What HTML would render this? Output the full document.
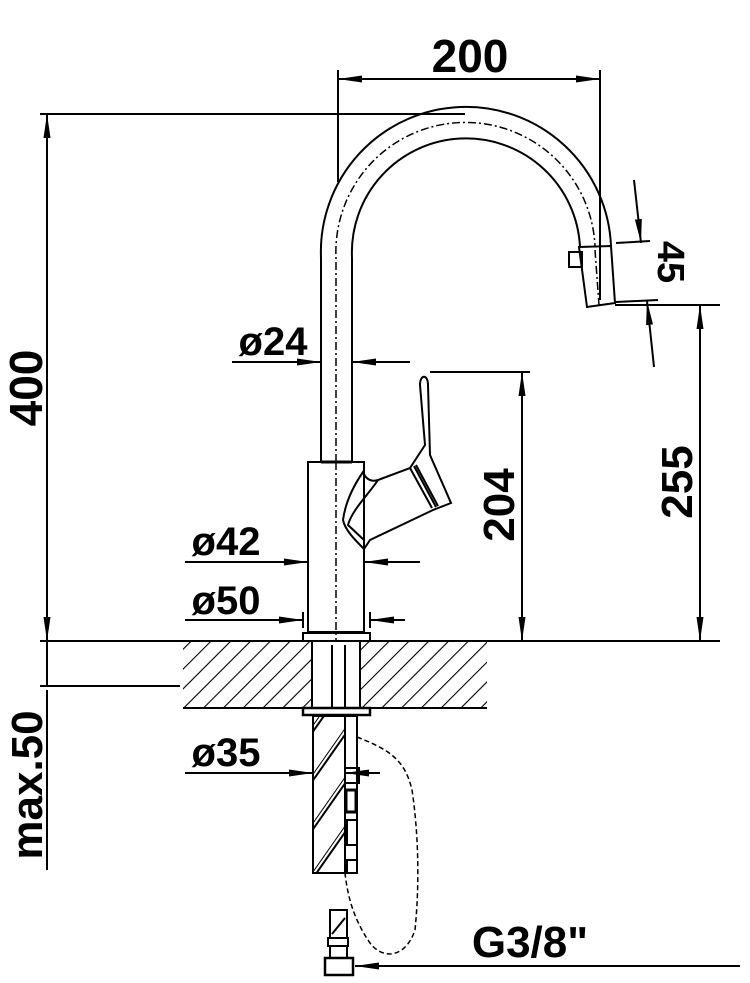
<!DOCTYPE html>
<html><head><meta charset="utf-8"><style>
html,body{margin:0;padding:0;background:#fff;}
svg{display:block;}
text{font-family:"Liberation Sans",sans-serif;font-weight:bold;fill:#000;}
</style></head><body>
<svg width="750" height="983" viewBox="0 0 750 983" xmlns="http://www.w3.org/2000/svg">
<defs>
<pattern id="h" width="14" height="14" patternUnits="userSpaceOnUse" patternTransform="rotate(45)">
<line x1="0" y1="0" x2="0" y2="14" stroke="#000" stroke-width="2.2"/>
</pattern>
<pattern id="h2" width="28" height="28" patternUnits="userSpaceOnUse" patternTransform="rotate(35)">
<line x1="0" y1="0" x2="0" y2="28" stroke="#000" stroke-width="2"/>
<line x1="4" y1="0" x2="4" y2="28" stroke="#000" stroke-width="2"/>
</pattern>
<marker id="a" viewBox="0 0 24 8" refX="24" refY="4" markerWidth="24" markerHeight="8" markerUnits="userSpaceOnUse" orient="auto-start-reverse"><path d="M0,0.5 L24,4 L0,7.5 Z" fill="#000"/></marker>
</defs>
<g stroke="#000" fill="none" stroke-width="2">
<!-- spout -->
<path d="M321,462 L321,258 A144,144 0 0 1 611,246"/>
<path d="M352,462 L352,258 A113,113 0 0 1 580,247"/>
<path d="M336,462 L336,258 A129,129 0 0 1 595,246" stroke-width="1.5" stroke-dasharray="8,3,2,3"/>
<path d="M579,247 L611,246 L615,303 L587,307 Z"/>
<rect x="569" y="252" width="13" height="15"/>
<line x1="595" y1="250" x2="599" y2="305" stroke-width="1.5" stroke-dasharray="8,3,2,3"/>
<!-- body -->
<rect x="308" y="462" width="56" height="170"/>
<line x1="336" y1="462" x2="336" y2="640" stroke-width="1.5" stroke-dasharray="8,3,2,3"/>
<line x1="321" y1="462" x2="352" y2="462" stroke-width="3"/>
<!-- handle -->
<path d="M363,472 C366,480 372,482 378,480 L410,468 L425,445 L420,385 C420,374 428,374 428,385 L430,455 L451,503 L433,510 L370,540 L364,549 C355,540 345,530 343,520 C345,505 352,488 363,472 Z"/>
<path d="M378,480 C368,495 352,510 348,525 L364,540" />
<path d="M410,468 L432,508 M414,466 L436,507 M416,465 L438,506"/>
<!-- base -->
<rect x="303" y="633" width="67" height="8"/>
</g>
<!-- countertop -->
<rect x="183" y="641" width="304" height="67" fill="url(#h)"/>
<rect x="312" y="641" width="48" height="67" fill="#fff" stroke="#000" stroke-width="2"/>
<g stroke="#000" fill="none" stroke-width="2">
<line x1="40" y1="641" x2="720" y2="641"/>
<line x1="183" y1="708" x2="487" y2="708"/>
<line x1="40" y1="686" x2="180" y2="686"/>
<line x1="332" y1="645" x2="332" y2="708"/>
<line x1="345" y1="645" x2="345" y2="708"/>
<rect x="303" y="708" width="67" height="7" stroke-width="2.5"/>
<!-- lower shank -->
<rect x="313" y="716" width="32" height="157" fill="url(#h2)"/>
<rect x="345" y="716" width="12" height="157" fill="#fff"/>
<rect x="345" y="768" width="14" height="15"/>
<rect x="346" y="790" width="10" height="22" stroke-width="3"/>
<rect x="347" y="820" width="10" height="25"/>
<rect x="347" y="860" width="10" height="13"/>
<!-- bottom connector -->
<rect x="330" y="910" width="17" height="28"/>
<line x1="332" y1="934" x2="345" y2="918"/>
<rect x="328" y="938" width="20" height="8"/>
<rect x="330" y="946" width="17" height="12"/>
<rect x="325" y="958" width="28" height="17" stroke-width="2.5"/>
<!-- dashed hose -->
<path d="M357,737 C390,750 405,760 412,790 C418,830 420,880 415,930 C405,960 380,960 368,940 C355,920 348,900 345,873" stroke-width="1.5" stroke-dasharray="5,3"/>
<!-- dimensions -->
<line x1="338" y1="70" x2="338" y2="182"/>
<line x1="600" y1="70" x2="600" y2="300"/>
<line x1="338" y1="79" x2="600" y2="79" marker-start="url(#a)" marker-end="url(#a)"/>
<line x1="40" y1="114" x2="465" y2="114"/>
<line x1="47" y1="114" x2="47" y2="641" marker-start="url(#a)" marker-end="url(#a)"/>
<line x1="47" y1="641" x2="47" y2="686"/>
<line x1="47" y1="690" x2="47" y2="870"/>
<line x1="232" y1="362" x2="321" y2="362" marker-end="url(#a)"/>
<line x1="410" y1="362" x2="352" y2="362" marker-end="url(#a)"/>
<line x1="430" y1="372" x2="530" y2="372"/>
<line x1="522" y1="372" x2="522" y2="641" marker-start="url(#a)" marker-end="url(#a)"/>
<line x1="615" y1="305" x2="720" y2="305"/>
<line x1="700" y1="305" x2="700" y2="641" marker-start="url(#a)" marker-end="url(#a)"/>
<line x1="616" y1="243" x2="650" y2="241"/>
<line x1="616" y1="302" x2="658" y2="300"/>
<line x1="634" y1="180" x2="641" y2="243" marker-end="url(#a)"/>
<line x1="654" y1="367" x2="647" y2="301" marker-end="url(#a)"/>
<line x1="185" y1="562" x2="308" y2="562" marker-end="url(#a)"/>
<line x1="420" y1="562" x2="364" y2="562" marker-end="url(#a)"/>
<line x1="185" y1="620" x2="303" y2="620" marker-end="url(#a)"/>
<line x1="405" y1="620" x2="370" y2="620" marker-end="url(#a)"/>
<line x1="303" y1="612" x2="303" y2="628"/>
<line x1="370" y1="612" x2="370" y2="628"/>
<line x1="313" y1="718" x2="313" y2="781"/>
<line x1="185" y1="773" x2="313" y2="773" marker-end="url(#a)"/>
<line x1="380" y1="773" x2="345" y2="773" marker-end="url(#a)"/>
<line x1="740" y1="966" x2="355" y2="966" marker-end="url(#a)"/>
</g>
<text x="470" y="72" font-size="46" text-anchor="middle">200</text>
<text transform="translate(42,388) rotate(-90)" font-size="46" text-anchor="middle">400</text>
<text x="273" y="355" font-size="40" text-anchor="middle">ø24</text>
<text transform="translate(514,505) rotate(-90)" font-size="44" text-anchor="middle">204</text>
<text transform="translate(692,482) rotate(-90)" font-size="44" text-anchor="middle">255</text>
<text transform="translate(658,262) rotate(90)" font-size="38" text-anchor="middle">45</text>
<text x="226" y="555" font-size="40" text-anchor="middle">ø42</text>
<text x="226" y="614" font-size="40" text-anchor="middle">ø50</text>
<text transform="translate(42,785) rotate(-90)" font-size="44" text-anchor="middle">max.50</text>
<text x="226" y="766" font-size="40" text-anchor="middle">ø35</text>
<text x="530" y="957" font-size="44" text-anchor="middle">G3/8"</text>
</svg>
</body></html>
